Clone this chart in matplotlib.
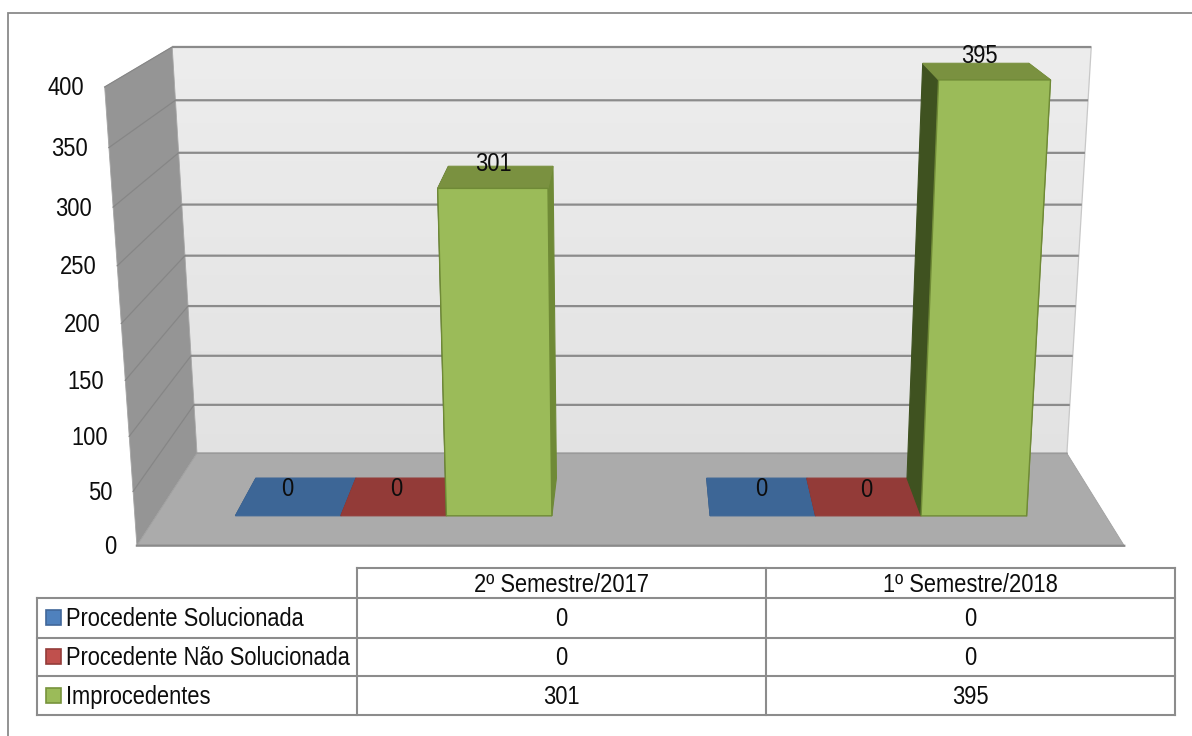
import numpy as np
import matplotlib
matplotlib.use("Agg")
import matplotlib.pyplot as plt
from matplotlib.patches import Polygon, Rectangle
from matplotlib import font_manager as fm

# ---------- data ----------
categories = ["2º Semestre/2017", "1º Semestre/2018"]
series_names = ["Procedente Solucionada", "Procedente Não Solucionada", "Improcedentes"]
solucionada = [0, 0]
nao_solucionada = [0, 0]
improcedentes = [301, 395]
y_ticks = [0, 50, 100, 150, 200, 250, 300, 350, 400]
Y_MAX = 400

# ---------- style ----------
front_cols = ["#4f81bd", "#c0504d", "#9bbb59"]
top_cols = ["#3d6696", "#933b38", "#7a9140"]
left_cols = ["#2c4a6e", "#6e2c2a", "#3f5220"]
right_cols = ["#375a85", "#83352f", "#6f8a36"]
GRID = "#8b8b8b"
FS = 18.5
TXT = "#0d0d0d"


def narrow_family(sx=0.85):
    """Condensed copy of Liberation Sans, standing in for the reference's Arial Narrow."""
    try:
        from fontTools.ttLib import TTFont
        src = fm.findfont("Liberation Sans", fallback_to_default=False)
        f = TTFont(src)
        glyf = f["glyf"]
        for name in glyf.keys():
            g = glyf[name]
            if g.isComposite():
                for comp in g.components:
                    comp.x = int(round(comp.x * sx))
            elif g.numberOfContours > 0:
                g.coordinates.scale((sx, 1))
            if hasattr(g, "program"):
                g.program.fromBytecode(b"")
        for name in glyf.keys():
            glyf[name].recalcBounds(glyf)
        hm = f["hmtx"].metrics
        for k, (adv, lsb) in list(hm.items()):
            hm[k] = (int(round(adv * sx)), int(round(lsb * sx)))
        for tag in ["kern", "GPOS", "GSUB", "fpgm", "prep", "cvt ", "hdmx", "VDMX", "LTSH"]:
            if tag in f:
                del f[tag]
        fam = "Local Sans Narrow"
        for rec in f["name"].names:
            if rec.nameID in (1, 4, 16):
                rec.string = fam
            elif rec.nameID == 6:
                rec.string = "LocalSansNarrow-Regular"
        f.save("local_narrow.ttf")
        fm.fontManager.addfont("local_narrow.ttf")
        return fam
    except Exception as e:
        print("narrow font failed:", e)
        return "Liberation Sans"


plt.rcParams["font.family"] = [narrow_family(), "DejaVu Sans"]

fig = plt.figure(figsize=(11.92, 7.36), dpi=100)
ax = fig.add_axes([0, 0, 1, 1])
ax.set_xlim(0, 1192)
ax.set_ylim(736, 0)
ax.axis("off")

# ---------- perspective scale: (x 0..1, value, z 0..1) -> canvas ----------
world = [(0, 0, 0), (1, 0, 0), (0, 1, 0), (1, 1, 0), (0, 0, 1), (1, 0, 1), (0, 1, 1), (1, 1, 1),
         (0, .5, 1), (1, .5, 1), (0, .5, 0)]
canvas = [(137, 546), (1124, 546), (105, 87), (1156, 87), (197, 453), (1067, 453), (172, 47), (1091, 47),
          (185, 256), (1079, 256), (121, 323)]
A = []
for (X, Y, Z), (u, v) in zip(world, canvas):
    A.append([X, Y, Z, 1, 0, 0, 0, 0, -u * X, -u * Y, -u * Z, -u])
    A.append([0, 0, 0, 0, X, Y, Z, 1, -v * X, -v * Y, -v * Z, -v])
P = np.linalg.svd(np.array(A, float))[2][-1].reshape(3, 4)


def proj(x, val, z):
    h = P @ np.array([x, val / Y_MAX, z, 1.0])
    return h[0] / h[2], h[1] / h[2]


# ---------- outer frame ----------
ax.plot([7.5, 7.5, 1192], [736, 12.5, 12.5], color="#8a8a8a", lw=1.3, solid_joinstyle="miter", zorder=1)

# ---------- walls and floor ----------
back = Polygon([proj(0, 0, 1), proj(1, 0, 1), proj(1, Y_MAX, 1), proj(0, Y_MAX, 1)], closed=True,
               fc="none", ec="none", zorder=2)
ax.add_patch(back)
grad = ax.imshow(np.linspace(0.925, 0.885, 64).reshape(-1, 1), cmap="gray", vmin=0, vmax=1, aspect="auto",
                 extent=(160, 1100, 453, 47), zorder=2)
grad.set_clip_path(back)
ax.set_xlim(0, 1192)
ax.set_ylim(736, 0)
ax.plot(*zip(proj(1, 0, 1), proj(1, Y_MAX, 1)), color="#c8c8c8", lw=0.9, zorder=2.1)
ax.add_patch(Polygon([proj(0, 0, 0), proj(0, 0, 1), proj(0, Y_MAX, 1), proj(0, Y_MAX, 0)], closed=True,
                     fc="#959595", ec="#a5a5a5", lw=0.6, zorder=2.2))
ax.add_patch(Polygon([proj(0, 0, 0), proj(1, 0, 0), proj(1, 0, 1), proj(0, 0, 1)], closed=True,
                     fc="#ababab", ec="#a0a0a0", lw=0.6, zorder=2.3))
ax.plot(*zip(proj(0, 0, 0), proj(1, 0, 0)), color="#8a8a8a", lw=1.6, zorder=2.4)

for t in y_ticks:
    if t > 0:
        ax.plot(*zip(proj(0, t, 1), proj(1, t, 1)), color=GRID, lw=1.6, zorder=2.5, solid_capstyle="butt")
        ax.plot(*zip(proj(0, t, 0), proj(0, t, 1)), color="#868686", lw=0.9, zorder=2.5)
    else:
        ax.plot(*zip(proj(0, t, 1), proj(1, t, 1)), color="#9a9a9a", lw=1.2, zorder=2.5)
    xt, yt = proj(0, t, 0)
    ax.text(xt - 21, yt + 1.5, str(t), ha="right", va="center", fontsize=FS, color=TXT, zorder=6)

# ---------- bars ----------
series = [solucionada, nao_solucionada, improcedentes]
ncat, nser = len(categories), len(series)
GAP = 1.5
bw = 1 / ncat / (nser + GAP)
Z0, Z1 = 0.296, 0.706


def box(x0, x1, val, s, z):
    kw = dict(closed=True, lw=0.8, zorder=z)
    ax.add_patch(Polygon([proj(x0, 0, Z0), proj(x0, 0, Z1), proj(x0, val, Z1), proj(x0, val, Z0)],
                         fc=left_cols[s], ec=left_cols[s], **kw))
    ax.add_patch(Polygon([proj(x1, 0, Z0), proj(x1, 0, Z1), proj(x1, val, Z1), proj(x1, val, Z0)],
                         fc=right_cols[s], ec=right_cols[s], **kw))
    ax.add_patch(Polygon([proj(x0, val, Z0), proj(x1, val, Z0), proj(x1, val, Z1), proj(x0, val, Z1)],
                         fc=top_cols[s], ec=top_cols[s], **kw))
    if val > 0:
        ax.add_patch(Polygon([proj(x0, 0, Z0), proj(x1, 0, Z0), proj(x1, val, Z0), proj(x0, val, Z0)],
                             fc=front_cols[s], ec=right_cols[s], closed=True, lw=1.0, zorder=z + 0.01))


label_nudge = {(0, 0): (-10, -7), (0, 1): (-4, -7), (0, 2): (-3, -13),
               (1, 0): (2, -7), (1, 1): (4, -7), (1, 2): (-5, -15)}
z = 3.0
for c in range(ncat):
    for s in range(nser):
        x0 = (c + (GAP / 2 + s) * 1 / (nser + GAP)) / ncat
        x1 = x0 + bw
        box(x0, x1, series[s][c], s, z)
        z += 0.05
for c in range(ncat):
    for s in range(nser):
        x0 = (c + (GAP / 2 + s) * 1 / (nser + GAP)) / ncat
        val = series[s][c]
        cx, cy = proj(x0 + bw / 2, val, (Z0 + Z1) / 2)
        dx, dy = label_nudge[(c, s)]
        ax.text(cx + dx, cy + dy, str(val), ha="center", va="center", fontsize=FS, color=TXT, zorder=6)

# ---------- data table ----------
col_x = [37, 357, 766, 1175]
row_y = [568, 598, 637.5, 676, 715]
TBL = "#8c8c8c"
tkw = dict(color=TBL, lw=1.5, zorder=5, solid_capstyle="projecting")
ax.plot([col_x[1], col_x[3]], [row_y[0], row_y[0]], **tkw)
for yy in row_y[1:]:
    ax.plot([col_x[0], col_x[3]], [yy, yy], **tkw)
ax.plot([col_x[0], col_x[0]], [row_y[1], row_y[4]], **tkw)
for xx in col_x[1:]:
    ax.plot([xx, xx], [row_y[0], row_y[4]], **tkw)
for c, name in enumerate(categories):
    ax.text((col_x[c + 1] + col_x[c + 2]) / 2, (row_y[0] + row_y[1]) / 2 + 2, name, ha="center", va="center",
            fontsize=FS, color=TXT, zorder=6)
key_edges = ["#41679a", "#943c39", "#77933c"]
for s, name in enumerate(series_names):
    ymid = (row_y[s + 1] + row_y[s + 2]) / 2
    ax.add_patch(Rectangle((45.5, ymid - 7.5), 15, 15, fc=front_cols[s], ec=key_edges[s], lw=1.2, zorder=6))
    ax.text(66, ymid + 1.5, name, ha="left", va="center", fontsize=FS, color=TXT, zorder=6)
    for c in range(ncat):
        ax.text((col_x[c + 1] + col_x[c + 2]) / 2, ymid + 1.5, str(series[s][c]), ha="center", va="center",
                fontsize=FS, color=TXT, zorder=6)

fig.savefig("out.png", dpi=100)
